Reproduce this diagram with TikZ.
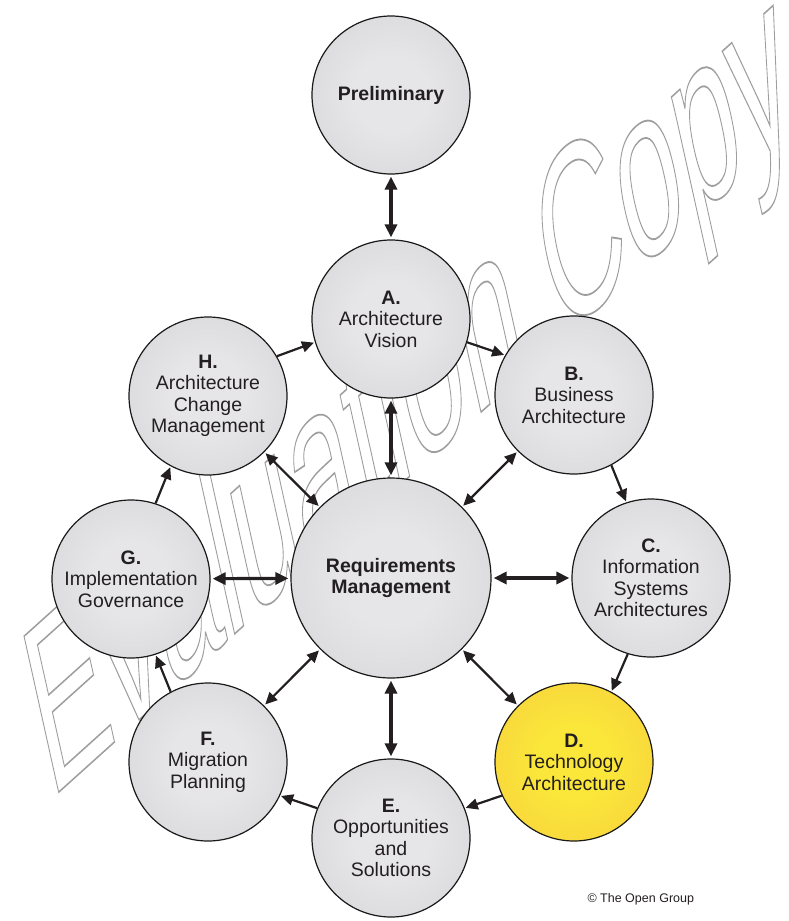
\documentclass[tikz,border=0pt]{standalone}
\usepackage{fontspec}
\setmainfont{Liberation Sans}
\usetikzlibrary{arrows.meta}
\definecolor{gin}{RGB}{230,230,232}
\definecolor{gmid}{RGB}{216,216,218}
\definecolor{gout}{RGB}{190,190,193}
\definecolor{yin}{RGB}{251,230,58}
\definecolor{ymid}{RGB}{247,212,60}
\definecolor{yout}{RGB}{238,184,62}
\definecolor{textc}{RGB}{35,31,32}
\definecolor{wmline}{RGB}{158,158,158}
\pgfdeclareradialshading{grayball}{\pgfpoint{0bp}{0bp}}{color(0bp)=(gin); color(12bp)=(gin); color(32bp)=(gmid); color(50bp)=(gout)}
\pgfdeclareradialshading{yellowball}{\pgfpoint{0bp}{0bp}}{color(0bp)=(yin); color(12bp)=(yin); color(32bp)=(ymid); color(50bp)=(yout)}
\newcommand{\outlinedtext}[1]{\special{pdf:literal direct 1 Tr 0.75 w}#1\special{pdf:literal direct 0 Tr}}
\begin{document}
\begin{tikzpicture}[x=1pt,y=-1pt,
  phase/.style={circle, draw=black!90, line width=1.2pt, minimum size=158pt, inner sep=0pt,
    shading=grayball, align=center, text=textc, font=\fontsize{19.5}{21.5}\selectfont},
  hub/.style={phase, minimum size=200pt},
  yphase/.style={phase, shading=yellowball},
  twoway/.style={{Triangle[length=13pt,width=12pt]}-{Triangle[length=13pt,width=12pt]}, line width=3.2pt, shorten <=2pt, shorten >=2pt, draw=textc},
  twowaythin/.style={{Triangle[length=12pt,width=11pt]}-{Triangle[length=12pt,width=11pt]}, line width=2.2pt, shorten <=1.5pt, shorten >=1.5pt, draw=textc},
  oneway/.style={-{Triangle[length=12pt,width=11pt]}, line width=2.2pt, shorten >=1pt, draw=textc}]
\useasboundingbox (0,0) rectangle (788,921);
% watermark
\node[anchor=base west, inner sep=0pt, yslant=0.90, xslant=-0.185, xscale=1.03, yscale=2.72,
  text=wmline, font=\fontsize{100}{100}\selectfont] (wm) at (50,800) {\outlinedtext{Evaluation Copy}};
% phases
\node[phase] (P) at (391,95) {\textbf{Preliminary}};
\node[phase] (A) at (391,319) {\textbf{A.}\\Architecture\\Vision};
\node[phase] (B) at (574,395) {\textbf{B.}\\Business\\Architecture};
\node[phase] (C) at (651,578) {\textbf{C.}\\Information\\Systems\\Architectures};
\node[yphase] (D) at (574,762) {\textbf{D.}\\Technology\\Architecture};
\node[phase] (E) at (391,838) {\textbf{E.}\\Opportunities\\and\\Solutions};
\node[phase] (F) at (208,762) {\textbf{F.}\\Migration\\Planning};
\node[phase] (G) at (131,579) {\textbf{G.}\\Implementation\\Governance};
\node[phase] (H) at (208,396) {\textbf{H.}\\Architecture\\Change\\Management};
\node[hub] (R) at (391,578) {\textbf{Requirements}\\\textbf{Management}};
% two-way connectors
\draw[twoway] (P) -- (A);
\draw[twoway] (A) -- (R);
\draw[twoway] (R) -- (E);
\draw[twoway] (R) -- (C);
\draw[twoway] (R) -- (G);
\draw[twowaythin] (R) -- (B);
\draw[twowaythin] (R) -- (D);
\draw[twowaythin] (R) -- (F);
\draw[twowaythin] (R) -- (H);
% cycle
\draw[oneway] (H.30) -- (A.197);
\draw[oneway] (A.-17) -- (B.150);
\draw[oneway] (B.-62) -- (C.108);
\draw[oneway] (C.-107) -- (D.62);
\draw[oneway] (D.205) -- (E.22);
\draw[oneway] (E.158) -- (F.-25);
\draw[oneway] (F.118) -- (G.-72);
\draw[oneway] (G.72) -- (H.242);
% copyright
\node[font=\fontsize{12.5}{14}\selectfont, text=textc, anchor=west] (copyr) at (584,899) {© The Open Group};
\end{tikzpicture}
\end{document}
